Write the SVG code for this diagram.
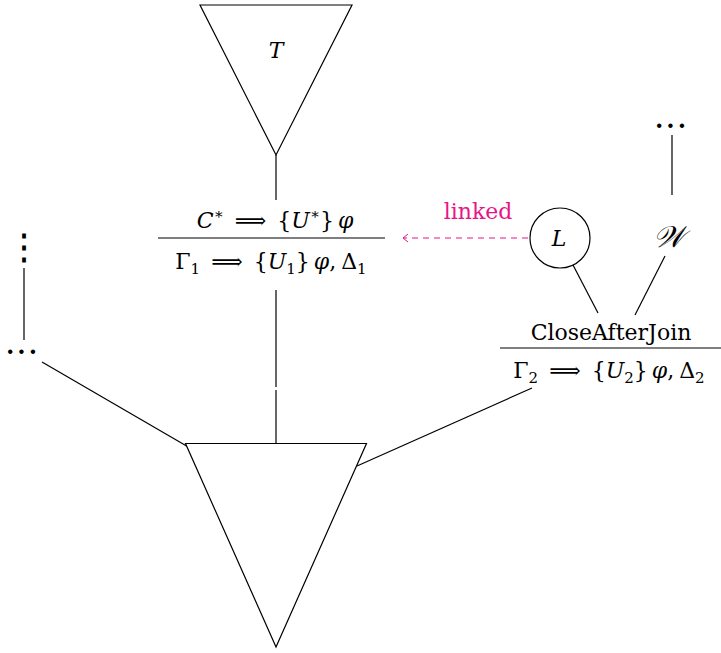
<svg xmlns="http://www.w3.org/2000/svg" width="721" height="653" viewBox="0 0 721 653">
<defs>
<style>
.ln{stroke:#000;stroke-width:1.2;fill:none}
.sh{stroke:#000;stroke-width:1.2;fill:#fff}
.t{font-family:"DejaVu Serif","Liberation Serif",serif;font-size:22px;fill:#000}
.i{font-style:italic}
.s{font-size:15px}
.d{font-family:"DejaVu Serif",serif;font-size:24px;font-weight:bold;fill:#000}
.pk{fill:#e6158a;font-family:"DejaVu Serif","Liberation Serif",serif;font-size:22px}
</style>
<marker id="ah" markerWidth="8" markerHeight="10" refX="5" refY="5" orient="auto" markerUnits="userSpaceOnUse">
<path d="M0,1 L5,5 L0,9" fill="none" stroke="#e6158a" stroke-width="1"/>
</marker>
</defs>
<rect width="721" height="653" fill="#fff"/>
<g id="connectors">
<line class="ln" x1="276" y1="155" x2="276" y2="200"/>
<line class="ln" x1="276" y1="290" x2="276" y2="387"/>
<line class="ln" x1="276" y1="390" x2="276" y2="443"/>
<line class="ln" x1="24" y1="268" x2="24" y2="340"/>
<line class="ln" x1="42" y1="362" x2="190" y2="448"/>
<line class="ln" x1="532" y1="388" x2="357" y2="466"/>
<line class="ln" x1="573" y1="265" x2="598" y2="313"/>
<line class="ln" x1="665" y1="256" x2="635" y2="315"/>
<line class="ln" x1="672" y1="135" x2="672" y2="195"/>
<line x1="528" y1="238" x2="403" y2="238" stroke="#e6158a" stroke-width="1" stroke-dasharray="6,5" marker-end="url(#ah)"/>
<text class="pk" x="478" y="219" text-anchor="middle">linked</text>
</g>
<g id="T">
<polygon class="sh" points="200,5 352,5 276,155"/>
<text class="t i" x="276" y="58" text-anchor="middle">T</text>
</g>
<g id="bottom-tree">
<polygon class="sh" points="185.5,443.5 366.5,443.5 276,647"/>
</g>
<g id="rule1">
<text class="t" x="275" y="228" text-anchor="middle"><tspan class="i">C</tspan><tspan class="s" dy="-9">∗</tspan><tspan dy="9" dx="11">⟹</tspan><tspan dx="11">{</tspan><tspan class="i">U</tspan><tspan class="s" dy="-9">∗</tspan><tspan dy="9">}</tspan><tspan class="i" dx="4">φ</tspan></text>
<line class="ln" x1="158" y1="238" x2="385" y2="238"/>
<text class="t" x="271" y="269" text-anchor="middle">Γ<tspan class="s" dy="5">1</tspan><tspan dy="-5" dx="11">⟹</tspan><tspan dx="11">{</tspan><tspan class="i">U</tspan><tspan class="s" dy="5">1</tspan><tspan dy="-5">}</tspan><tspan class="i" dx="4">φ</tspan>,<tspan dx="5">Δ</tspan><tspan class="s" dy="5">1</tspan></text>
</g>
<g id="L">
<circle class="sh" cx="560" cy="238" r="30"/>
<text class="t i" x="559" y="246" text-anchor="middle">L</text>
</g>
<g id="W">
<text class="t i" x="668" y="247" text-anchor="middle" style="font-size:30px">𝒲</text>
<text class="d" x="672" y="134" text-anchor="middle" letter-spacing="3">···</text>
</g>
<g id="rule2">
<text class="t" x="611" y="340" text-anchor="middle">CloseAfterJoin</text>
<line class="ln" x1="500" y1="348" x2="721" y2="348"/>
<text class="t" x="609" y="378" text-anchor="middle">Γ<tspan class="s" dy="5">2</tspan><tspan dy="-5" dx="11">⟹</tspan><tspan dx="11">{</tspan><tspan class="i">U</tspan><tspan class="s" dy="5">2</tspan><tspan dy="-5">}</tspan><tspan class="i" dx="4">φ</tspan>,<tspan dx="5">Δ</tspan><tspan class="s" dy="5">2</tspan></text>
</g>
<g id="left-dots">
<g transform="translate(0,258.5) scale(1,1.25)"><text class="d" x="24" y="0" text-anchor="middle" style="font-size:28px">⋮</text></g>
<text class="d" x="23" y="360" text-anchor="middle" letter-spacing="3">···</text>
</g>
</svg>
